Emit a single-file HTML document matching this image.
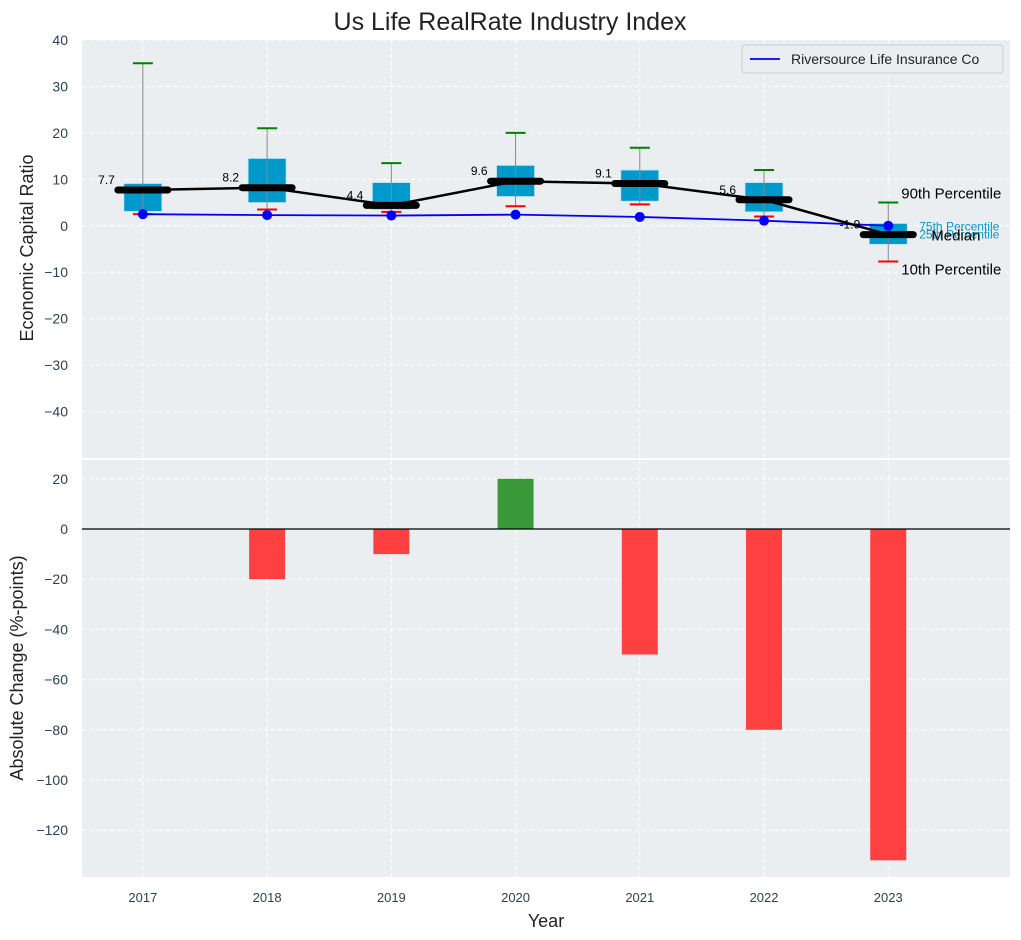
<!DOCTYPE html>
<html><head><meta charset="utf-8"><style>
body{margin:0;background:#fff;}
svg{display:block;font-family:"Liberation Sans",sans-serif;}
</style></head><body>
<svg id="c" width="1021" height="940" xmlns="http://www.w3.org/2000/svg"></svg>
<script>
const years=['2017','2018','2019','2020','2021','2022','2023'];
const p90=[35,21,13.5,20,16.8,12,5];
const p75=[9.1,14.5,9.3,13,12,9.3,0.5];
const p25=[3.1,5,3.5,6.3,5.3,3,-4];
const p10=[2.5,3.5,3,4.2,4.6,2,-7.7];
const medians=[7.7,8.2,4.4,9.6,9.1,5.6,-1.9];
const company=[2.5,2.3,2.2,2.4,1.9,1.1,0];
const changes=[0,-20,-10,20,-50,-80,-132];
const topTicks=[40,30,20,10,0,-10,-20,-30,-40];
const botTicks=[20,0,-20,-40,-60,-80,-100,-120];

const NS='http://www.w3.org/2000/svg';
const svg=document.getElementById('c');
function mk(t,a,p){const e=document.createElementNS(NS,t);for(const k in a)e.setAttribute(k,a[k]);(p||svg).appendChild(e);return e;}
const L=82,R=1010;
const x=i=>L+(i+0.49)*(R-L)/7.47;
const T0=40,T1=458,yt=v=>T0+(40-v)*(T1-T0)/90;
const B0=460,B1=877,yb=v=>529-v*50.2/20;
const tc='#2e3f52';

let e=mk('rect',{x:L,y:T0,width:R-L,height:T1-T0,fill:'#eaeef0'});

e=mk('rect',{x:L,y:B0,width:R-L,height:B1-B0,fill:'#eaeef0'});


years.forEach((y,i)=>{
 mk('line',{x1:x(i),x2:x(i),y1:T0,y2:T1,stroke:'#fff','stroke-dasharray':'4,3','stroke-width':1});
 mk('line',{x1:x(i),x2:x(i),y1:B0,y2:B1,stroke:'#fff','stroke-dasharray':'4,3','stroke-width':1});
 e=mk('text',{x:x(i),y:902,'text-anchor':'middle','font-size':13,fill:tc});e.textContent=y;
 
});
topTicks.forEach(v=>{
 mk('line',{x1:L,x2:R,y1:yt(v),y2:yt(v),stroke:'#fff','stroke-dasharray':'4,3'});
 e=mk('text',{x:68,y:yt(v)+5,'text-anchor':'end','font-size':14,fill:tc});e.textContent=v<0?'−'+(-v):v;
 
});
botTicks.forEach(v=>{
 mk('line',{x1:L,x2:R,y1:yb(v),y2:yb(v),stroke:'#fff','stroke-dasharray':'4,3'});
 e=mk('text',{x:68,y:yb(v)+5,'text-anchor':'end','font-size':14,fill:tc});e.textContent=v<0?'−'+(-v):v;
 
});

years.forEach((y,i)=>{
 const cx=x(i);
 e=mk('rect',{x:cx-19,y:yt(p75[i]),width:38,height:yt(p25[i])-yt(p75[i]),fill:'#0099cc',stroke:'#bfe3f0','stroke-width':0.8});
 
 mk('line',{x1:cx,x2:cx,y1:yt(p90[i]),y2:yt(p10[i]),stroke:'#888','stroke-width':1});
 e=mk('line',{x1:cx-10,x2:cx+10,y1:yt(p90[i]),y2:yt(p90[i]),stroke:'green','stroke-width':2});
 
 e=mk('line',{x1:cx-10,x2:cx+10,y1:yt(p10[i]),y2:yt(p10[i]),stroke:'red','stroke-width':2});
 
});
e=mk('polyline',{points:company.map((v,i)=>x(i)+','+yt(v)).join(' '),fill:'none',stroke:'blue','stroke-width':1.8});

company.forEach((v,i)=>{e=mk('circle',{cx:x(i),cy:yt(v),r:5,fill:'blue'});
 });
e=mk('polyline',{points:medians.map((v,i)=>x(i)+','+yt(v)).join(' '),fill:'none',stroke:'#000','stroke-width':2.5});

medians.forEach((v,i)=>{
 e=mk('line',{x1:x(i)-25,x2:x(i)+25,y1:yt(v),y2:yt(v),stroke:'#000','stroke-width':7,'stroke-linecap':'round'});
 
 e=mk('text',{x:x(i)-28,y:yt(v)-6,'text-anchor':'end','font-size':12,fill:'#000'});e.textContent=v;
 
});
const li=6,lx=x(li);
e=mk('text',{x:lx+13,y:yt(p90[li])-4,'font-size':15,fill:'#000'});e.textContent='90th Percentile';

e=mk('text',{x:lx+13,y:yt(p10[li])+13,'font-size':15,fill:'#000'});e.textContent='10th Percentile';

e=mk('text',{x:lx+31,y:yt(p75[li])+7,'font-size':12,fill:'#0099cc'});e.textContent='75th Percentile';

e=mk('text',{x:lx+31,y:yt(p75[li])+15,'font-size':12,fill:'#0099cc'});e.textContent='25th Percentile';

e=mk('text',{x:lx+43,y:yt(medians[li])+6,'font-size':15,fill:'#000'});e.textContent='Median';


changes.forEach((v,i)=>{
 const y0=yb(Math.max(v,0)),h=Math.abs(yb(v)-yb(0));
 e=mk('rect',{x:x(i)-18,y:y0,width:36,height:h,fill:v>=0?'#3a9a3a':'#ff4040'});
 
});
mk('line',{x1:L,x2:R,y1:yb(0),y2:yb(0),stroke:'#000','stroke-width':1.2});

const lg=mk('g',{});
mk('rect',{x:742,y:45,width:261,height:28,rx:3,fill:'#eaeef0',stroke:'#ccc'},lg);
mk('line',{x1:750,x2:780,y1:59,y2:59,stroke:'blue','stroke-width':1.8},lg);
e=mk('text',{x:791,y:64,'font-size':14,fill:'#222'},lg);e.textContent='Riversource Life Insurance Co';

e=mk('text',{x:510,y:30,'text-anchor':'middle','font-size':25,fill:'#222'});e.textContent='Us Life RealRate Industry Index';

e=mk('text',{x:546,y:927,'text-anchor':'middle','font-size':18,fill:'#222'});e.textContent='Year';

e=mk('text',{x:0,y:0,'text-anchor':'middle','font-size':18,fill:'#222',transform:'translate(33,248) rotate(-90)'});e.textContent='Economic Capital Ratio';

e=mk('text',{x:0,y:0,'text-anchor':'middle','font-size':18,fill:'#222',transform:'translate(23,668) rotate(-90)'});e.textContent='Absolute Change (%-points)';

</script>
</body></html>
